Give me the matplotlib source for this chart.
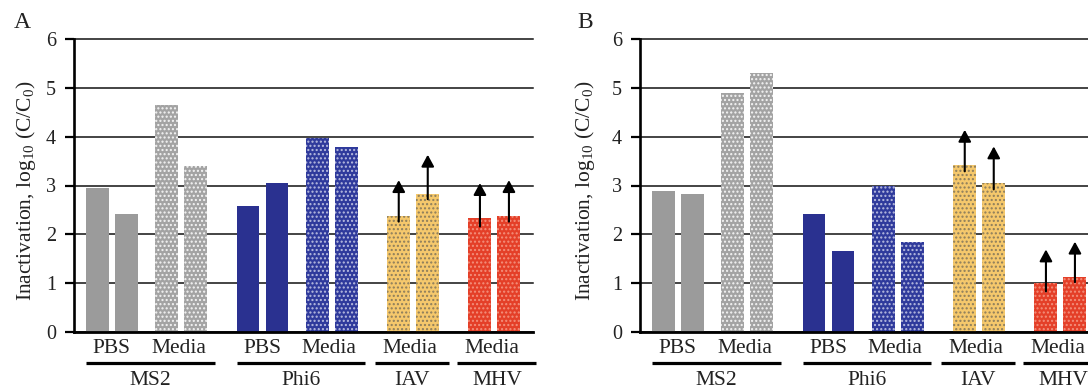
import numpy as np
import matplotlib
matplotlib.use("Agg")
import matplotlib.pyplot as plt

plt.rcParams['font.family'] = ['Liberation Serif', 'DejaVu Serif']
plt.rcParams['mathtext.fontset'] = 'custom'
plt.rcParams['mathtext.rm'] = 'Liberation Serif'
plt.rcParams['hatch.linewidth'] = 1.0

# -------------------------------
# Data
# -------------------------------
groups = ['MS2', 'Phi6', 'IAV', 'MHV']
sub_labels = ['PBS', 'Media', 'PBS', 'Media', 'Media', 'Media']
# bars per sub label pair (2 each)
values_A = [2.94, 2.41, 4.64, 3.40, 2.58, 3.06, 3.98, 3.78, 2.38, 2.83, 2.33, 2.38]
values_B = [2.88, 2.82, 4.89, 5.31, 2.41, 1.65, 2.98, 1.84, 3.42, 3.05, 1.00, 1.13]

# arrows on IAV / MHV bars (last four bars): start and tip
arrow_base_A = [2.26, 2.72, 2.16, 2.26]
arrow_tip_A = [3.11, 3.63, 3.05, 3.11]
arrow_base_B = [3.29, 2.92, 0.83, 1.02]
arrow_tip_B = [4.14, 3.80, 1.69, 1.85]

# -------------------------------
# Styles
# -------------------------------
gray, blue, yellow, red = '#9b9b9b', '#2a3190', '#f5c86c', '#e43f28'
pair_styles = [
    (gray, None, None),
    ('#a3a3a3', '#f4f4f4', '....'),
    (blue, None, None),
    ('#2f3a9c', '#b9bde0', '....'),
    (yellow, '#8c7d5c', '....'),
    (red, '#f3907c', '....'),
]

# bar centers, in units of bar pitch
pair_left = [0.8, 3.2, 6.0, 8.4, 11.2, 14.0]
bar_x = []
for p in pair_left:
    bar_x += [p, p + 1.0]
bar_w = 0.79

underlines = [(0.42, 4.85), (5.62, 10.05), (10.39, 12.93), (13.22, 15.95)]

W, H = 1088, 391
fig = plt.figure(figsize=(W / 100, H / 100), dpi=100)

ax_left = {'A': 74, 'B': 640}
ax_w, ax_h = 459, 293
ax_bottom = H - 332


def draw_panel(name, values, bases, tips, ylabel_x):
    ax = fig.add_axes([ax_left[name] / W, ax_bottom / H, ax_w / W, ax_h / H])
    for i, (x, v) in enumerate(zip(bar_x, values)):
        fc, hc, hatch = pair_styles[i // 2]
        if hatch:
            ax.bar(x, v, width=bar_w, color=fc, edgecolor=hc, linewidth=0,
                   hatch=hatch, zorder=2)
        else:
            ax.bar(x, v, width=bar_w, color=fc, linewidth=0, zorder=2)

    for x, b, t in zip(bar_x[-4:], bases, tips):
        ax.annotate('', xy=(x, t), xytext=(x, b),
                    arrowprops=dict(arrowstyle='-|>,head_length=0.7,head_width=0.38',
                                    color='black', lw=1.5, shrinkA=0, shrinkB=0),
                    zorder=5)

    ax.set_xlim(0, 15.83)
    ax.set_ylim(0, 6)
    ax.set_yticks(range(7))
    ax.set_xticks([])
    ax.yaxis.grid(True, color='#111111', linewidth=1.1)
    for gl in ax.get_ygridlines():
        gl.set_clip_on(False)
    ax.set_axisbelow(True)

    for s in ['top', 'right']:
        ax.spines[s].set_visible(False)
    ax.spines['left'].set_linewidth(1.9)
    ax.spines['bottom'].set_linewidth(2.0)
    ax.spines['bottom'].set_zorder(4)
    ax.tick_params(axis='y', length=6.5, width=1.6, pad=6.5,
                   labelsize=14.5, labelcolor='#222222')

    tr = ax.get_xaxis_transform()
    for k, lab in enumerate(sub_labels):
        xc = pair_left[k] + 0.5
        if lab == 'Media':
            xc -= 0.1
        ax.text(xc, -0.055, lab, transform=tr, ha='center', va='center',
                fontsize=15.5, color='#222222')
    for (x0, x1), g in zip(underlines, groups):
        ax.plot([x0, x1], [-0.106, -0.106], transform=tr, color='black',
                lw=2.3, clip_on=False, solid_capstyle='butt')
        ax.text((x0 + x1) / 2, -0.167, g, transform=tr, ha='center',
                va='center', fontsize=15.5, color='#222222')

    fig.text(ylabel_x / W, 1 - 191 / H,
             r'Inactivation, log$_{\mathrm{10}}$ (C/C$_{\mathrm{0}}$)',
             rotation=90, ha='center', va='center', fontsize=15.5,
             color='#222222')
    return ax


draw_panel('A', values_A, arrow_base_A, arrow_tip_A, 26)
draw_panel('B', values_B, arrow_base_B, arrow_tip_B, 585)

fig.text(22 / W, 1 - 22 / H, 'A', ha='center', va='center', fontsize=17,
         color='#222222')
fig.text(585 / W, 1 - 22 / H, 'B', ha='center', va='center', fontsize=17,
         color='#222222')

fig.savefig('out.png', dpi=100)
